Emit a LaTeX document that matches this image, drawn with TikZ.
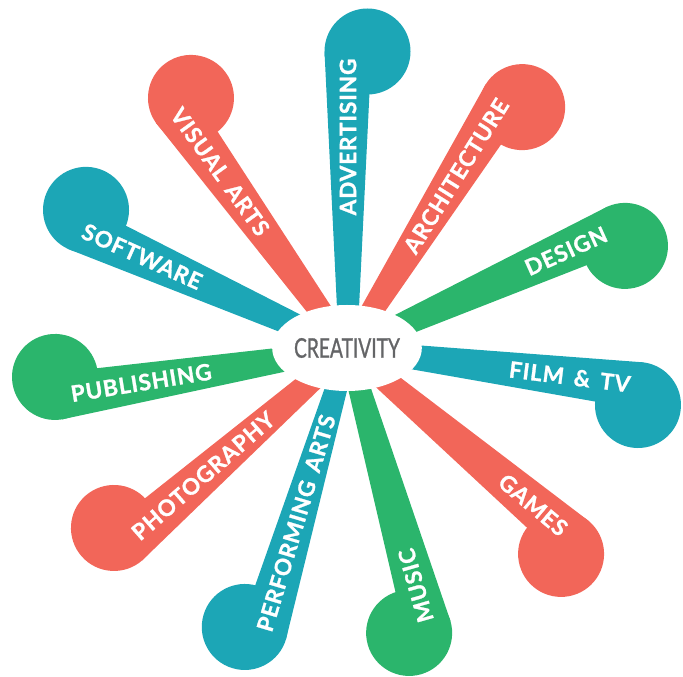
\documentclass[tikz,border=0pt]{standalone}
\usepackage{fontspec}
\setmainfont{Lato}
\newfontfamily\lblfont{Lato}[UprightFont={* Bold}, FakeBold=1.2, LetterSpace=4, WordSpace=1.6]
\newfontfamily\corefont{Lato}[FakeBold=1.1]
\usepackage{graphicx}
\usetikzlibrary{shapes.geometric}
\definecolor{cred}{HTML}{F26659}
\definecolor{cteal}{HTML}{1CA6B6}
\definecolor{cgreen}{HTML}{2BB56C}
\definecolor{cgray}{HTML}{646567}
% spoke: angle, length to circle, colour
\newcommand\myspoke[3]{%
  \begin{scope}[shift={(348,328)}, rotate=#1]
    \fill[#3] (0,9) -- (#2,23.5) -- (#2,-23.5) -- (0,-9) -- cycle;
    \fill[#3] (#2,-19.5) circle[radius=43];
  \end{scope}}
% label: name, angle, text, distance, extra rotation
\newcommand\mylabel[5]{%
  \begin{scope}[shift={(348,328)}, rotate=#2]
    \node[lbl, transform shape, rotate=#5] (#1) at (#4,0) {#3};
  \end{scope}}
\begin{document}
\begin{tikzpicture}[x=1pt,y=1pt,
  lbl/.style={font=\lblfont\fontsize{22.5}{24}\selectfont, text=white, inner sep=0pt},
  corestyle/.style={ellipse, fill=white, minimum width=148pt, minimum height=86pt, inner sep=0pt,
     font=\corefont\fontsize{27}{28}\selectfont, text=cgray}]
\useasboundingbox (0,0) rectangle (683,677);
\myspoke{90}{297.5}{cteal}
\myspoke{58}{297.4}{cred}
\myspoke{24.2}{294.9}{cgreen}
\myspoke{-7.15}{294.7}{cteal}
\myspoke{-40.1}{295}{cred}
\myspoke{-74}{289.8}{cgreen}
\myspoke{-106.6}{295.9}{cteal}
\myspoke{-138.8}{294}{cred}
\myspoke{-170.75}{293.7}{cgreen}
\myspoke{155.8}{296}{cteal}
\myspoke{125.8}{295.5}{cred}
\node[corestyle] (core) at (347,329) {\scalebox{0.71}[1]{CREATIVITY}};
\mylabel{adv}{90}{ADVERTISING}{212}{0}
\mylabel{arch}{58}{ARCHITECTURE}{204}{0}
\mylabel{des}{24.2}{DESIGN}{239}{0}
\mylabel{film}{-7.15}{FILM \& TV}{223.5}{0}
\mylabel{games}{-40.1}{GAMES}{242}{0}
\mylabel{music}{-74}{MUSIC}{246}{180}
\mylabel{perf}{-106.6}{PERFORMING ARTS}{181.7}{180}
\mylabel{photo}{-138.8}{PHOTOGRAPHY}{192.5}{180}
\mylabel{pub}{-170.75}{PUBLISHING}{209.6}{180}
\mylabel{soft}{155.8}{SOFTWARE}{225.7}{180}
\mylabel{vis}{125.8}{VISUAL ARTS}{218.6}{180}
\end{tikzpicture}
\end{document}
